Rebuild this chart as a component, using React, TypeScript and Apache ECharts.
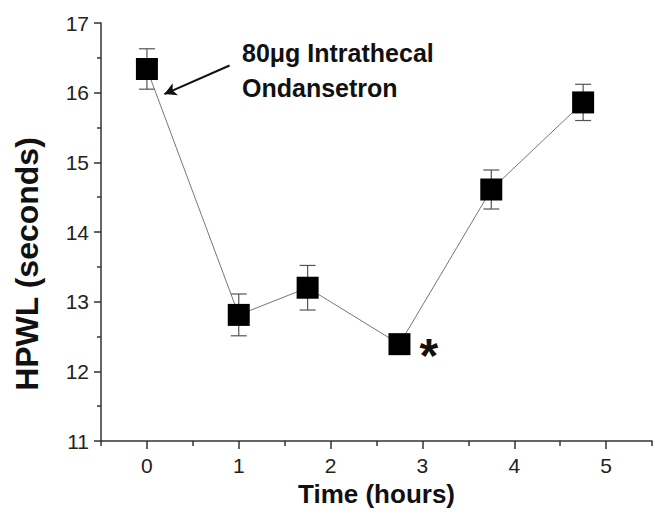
import React, { useEffect, useRef } from "react";
import * as echarts from "echarts";

const timeHours = [0, 1, 1.75, 2.75, 3.75, 4.75];
const hpwlSeconds = [16.34, 12.81, 13.2, 12.39, 14.61, 15.86];
const hpwlError = [0.29, 0.3, 0.32, 0.1, 0.28, 0.26];
const xMajorTicks = [0, 1, 2, 3, 4, 5];
const xMinorTicks = [-0.5, 0.5, 1.5, 2.5, 3.5, 4.5, 5.5];
const annotationText = "80μg Intrathecal\nOndansetron";
const yAxisTitle = "HPWL (seconds)";
const xAxisTitle = "Time (hours)";
const arrowFrom = [0.9, 16.39];
const arrowTo = [0.19, 15.98];
const significantIndex = 3;

export default function App() {
  const ref = useRef<HTMLDivElement>(null);
  useEffect(() => {
    if (!ref.current) return;
    const chart = echarts.init(ref.current, null, { renderer: "svg" });
    const axisColor = "#333";
    const font = "'Liberation Sans', Arial, sans-serif";
    const points = timeHours.map((t, i) => [t, hpwlSeconds[i]]);
    const errData = timeHours.map((t, i) => [t, hpwlSeconds[i] - hpwlError[i], hpwlSeconds[i] + hpwlError[i]]);
    chart.setOption({
      animation: false,
      backgroundColor: "#fff",
      grid: { left: 101, right: 3, top: 23, bottom: 74 },
      xAxis: [
        {
          type: "value",
          min: -0.5,
          max: 5.5,
          name: xAxisTitle,
          nameLocation: "middle",
          nameGap: 37,
          nameTextStyle: { fontFamily: font, fontWeight: "bold", fontSize: 26, color: "#111" },
          axisLine: { show: true, onZero: false, lineStyle: { color: axisColor, width: 1.5 } },
          axisTick: { show: true, length: 8, customValues: xMajorTicks, lineStyle: { color: axisColor, width: 1.5 } },
          axisLabel: { show: true, customValues: xMajorTicks, margin: 14, fontFamily: font, fontSize: 21, color: "#222" },
          splitLine: { show: false },
        },
        {
          type: "value",
          min: -0.5,
          max: 5.5,
          position: "bottom",
          axisLine: { show: false, onZero: false },
          axisTick: { show: true, length: 5, customValues: xMinorTicks, lineStyle: { color: axisColor, width: 1.5 } },
          axisLabel: { show: false },
          splitLine: { show: false },
        },
      ],
      yAxis: {
        type: "value",
        min: 11,
        max: 17,
        interval: 1,
        axisLine: { show: true, onZero: false, lineStyle: { color: axisColor, width: 1.5 } },
        axisTick: { show: true, length: 7, lineStyle: { color: axisColor, width: 1.5 } },
        minorTick: { show: true, splitNumber: 2, length: 4, lineStyle: { color: axisColor, width: 1.5 } },
        axisLabel: { margin: 12, fontFamily: font, fontSize: 21, color: "#222" },
        splitLine: { show: false },
        minorSplitLine: { show: false },
      },
      series: [
        {
          type: "custom",
          z: 1,
          data: errData,
          renderItem: (params: any, api: any) => {
            const x = api.coord([api.value(0), api.value(1)])[0];
            const yLo = api.coord([api.value(0), api.value(1)])[1];
            const yHi = api.coord([api.value(0), api.value(2)])[1];
            const style = { stroke: "#555", lineWidth: 1.2 };
            const cap = 8;
            return {
              type: "group",
              children: [
                { type: "line", shape: { x1: x, y1: yLo, x2: x, y2: yHi }, style },
                { type: "line", shape: { x1: x - cap, y1: yLo, x2: x + cap, y2: yLo }, style },
                { type: "line", shape: { x1: x - cap, y1: yHi, x2: x + cap, y2: yHi }, style },
              ],
            };
          },
        },
        {
          type: "line",
          z: 3,
          data: points.map((p, i) =>
            i === significantIndex
              ? {
                  value: p,
                  label: {
                    show: true,
                    position: "right",
                    distance: 9,
                    offset: [0, 11],
                    formatter: "*",
                    fontFamily: font,
                    fontWeight: "bold",
                    fontSize: 48,
                    color: "#111",
                  },
                }
              : p
          ),
          symbol: "rect",
          symbolSize: 22,
          itemStyle: { color: "#000" },
          lineStyle: { color: "#777", width: 1 },
          markLine: {
            silent: true,
            symbol: ["none", "arrow"],
            symbolSize: [10, 12],
            label: { show: false },
            lineStyle: { color: "#111", width: 2, type: "solid" },
            data: [[{ coord: arrowFrom }, { coord: arrowTo }]],
          },
        },
      ],
      graphic: [
        {
          type: "text",
          left: 242,
          top: 35,
          style: {
            text: annotationText,
            font: `bold 25px ${font}`,
            lineHeight: 35,
            fill: "#111",
          },
        },
        {
          type: "text",
          x: 27,
          y: 264,
          rotation: Math.PI / 2,
          style: {
            text: yAxisTitle,
            font: `bold 32px ${font}`,
            align: "center",
            verticalAlign: "middle",
            fill: "#111",
          },
        },
      ],
    });
    return () => chart.dispose();
  }, []);
  return <div ref={ref} style={{ position: "absolute", left: 0, top: 0, width: 655, height: 515 }} />;
}
